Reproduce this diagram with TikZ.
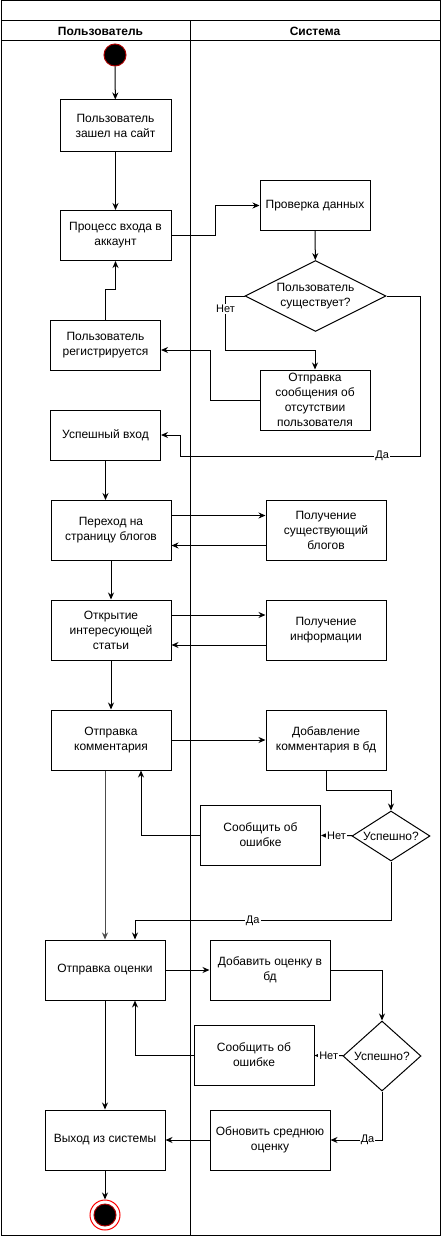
\documentclass[tikz,border=0pt]{standalone}
\usepackage{fontspec}
\setmainfont{Liberation Sans}
\usetikzlibrary{shapes.geometric,arrows.meta}
\tikzset{
  box/.style={draw, rectangle, minimum width=120pt, minimum height=60pt, inner sep=2pt, align=center, font=\fontsize{12}{15}\selectfont},
  decision/.style={draw, diamond, inner sep=0pt, align=center, font=\fontsize{12}{15}\selectfont},
  lane/.style={font=\bfseries\fontsize{12}{15}\selectfont},
  lbl/.style={fill=white, inner sep=1pt, font=\fontsize{11}{13}\selectfont},
}
\begin{document}
\begin{tikzpicture}[x=1pt, y=-1pt, line width=1pt, >={Stealth[length=7pt,width=6pt]}]
    \useasboundingbox (0,0) rectangle (441,1236);
    \draw (1,1) rectangle (440,1235);
    \draw (1,21) -- (440,21);
    \draw (1,41) -- (440,41);
    \draw (190,21) -- (190,1235);
    \node[lane] (usr) at (100.5,31) {Пользователь};
    \node[lane] (sys) at (315,31) {Система};

    \node[circle, fill=black, draw={rgb,255:red,170;green,0;blue,0}, minimum size=22pt, inner sep=0pt] (start) at (115,55) {};
    \node[box, minimum width=111pt, minimum height=51pt] (visit) at (115.5,125.5) {Пользователь\\зашел на сайт};
    \node[box, minimum width=111pt, minimum height=50pt] (login) at (115.5,235.5) {Процесс входа в\\аккаунт};
    \node[box, minimum width=110pt, minimum height=50pt] (check) at (315,205.5) {Проверка данных};
    \node[decision, aspect=2, minimum width=141pt, minimum height=71pt] (exists) at (315.5,296) {Пользователь\\существует?};
    \node[box, minimum width=110pt, minimum height=50pt] (register) at (105.5,345) {Пользователь\\регистрируется};
    \node[box, minimum width=110pt, minimum height=60pt] (notfound) at (315,400) {Отправка\\сообщения об\\отсутствии\\пользователя};
    \node[box, minimum width=110pt, minimum height=50pt] (success) at (105.5,435) {Успешный вход};
    \node[box] (blogs) at (111,530.5) {Переход на\\страницу блогов};
    \node[box] (getblogs) at (326,530.5) {Получение\\существующий\\блогов};
    \node[box] (article) at (111,630) {Открытие\\интересующей\\статьи};
    \node[box] (getinfo) at (326,630) {Получение\\информации};
    \node[box] (comment) at (111,740) {Отправка\\комментария};
    \node[box] (addcomment) at (326,740) {Добавление\\комментария в бд};
    \node[decision, aspect=1.56, minimum width=78pt, minimum height=50pt] (ok1) at (391,836) {Успешно?};
    \node[box] (err1) at (260.5,835) {Сообщить об\\ошибке};
    \node[box] (rate) at (105,970) {Отправка оценки};
    \node[box] (addrate) at (270,970) {Добавить оценку в\\бд};
    \node[decision, aspect=1.1, minimum width=78pt, minimum height=70pt] (ok2) at (382,1056) {Успешно?};
    \node[box] (err2) at (254,1055) {Сообщить об\\ошибке};
    \node[box] (logout) at (105,1140) {Выход из системы};
    \node[box] (avg) at (270,1140) {Обновить среднюю\\оценку};
    \node[circle, fill=white, draw=red, minimum size=30pt, inner sep=0pt] (finish) at (105,1215) {};
    \node[circle, fill=black, draw={rgb,255:red,170;green,0;blue,0}, minimum size=22pt, inner sep=0pt] (finishdot) at (105,1215) {};

    \draw[->] (start) -- (visit);
    \draw[->] (visit) -- (login);
    \draw[->] (login.east) -- ++(44,0) |- (check.west);
    \draw[->] (check) -- (exists);
    \draw[->] (exists.west) -- ++(-19,0) -- ++(0,54) node[lbl, pos=0.24] {Нет} -| (notfound.north);
    \draw[->] (notfound.west) -- ++(-49,0) |- ([yshift=-5pt]register.east);
    \draw[->] (register.north) -- ++(0,-30) -| (login.south);
    \draw[->] (exists.east) -- ++(34,0) -- ++(0,160) -- ++(-240,0) node[lbl, pos=0.16] {Да} |- (success.east);
    \draw[->] (success.south) -- (success.south |- blogs.north);
    \draw[->] ([yshift=15pt]blogs.east) -- ([yshift=15pt]getblogs.west);
    \draw[->] ([yshift=-15pt]getblogs.west) -- ([yshift=-15pt]blogs.east);
    \draw[->] (blogs) -- (article);
    \draw[->] ([yshift=15pt]article.east) -- ([yshift=15pt]getinfo.west);
    \draw[->] ([yshift=-15pt]getinfo.west) -- ([yshift=-15pt]article.east);
    \draw[->] (article) -- (comment);
    \draw[->] (comment) -- (addcomment);
    \draw[->] (addcomment.south) -- ++(0,20) -| (ok1.north);
    \draw[->] (ok1) -- node[lbl] {Нет} (err1);
    \draw[->] (err1.west) -| ([xshift=30pt]comment.south);
    \draw[->] (ok1.south) -- ++(0,59) -| node[lbl, pos=0.27] {Да} ([xshift=30pt]rate.north);
    \draw[->, black!70] (rate.north |- comment.south) -- (rate.north);
    \draw[->] (rate) -- (addrate);
    \draw[->] (addrate.east) -| (ok2.north);
    \draw[->] (ok2) -- node[lbl] {Нет} (err2);
    \draw[->] (err2.west) -| ([xshift=30pt]rate.south);
    \draw[->] (rate) -- (logout);
    \draw[->] (ok2.south) |- node[lbl, pos=0.64] {Да} (avg.east);
    \draw[->] (avg) -- (logout);
    \draw[->] (logout) -- (finish);
\end{tikzpicture}
\end{document}
